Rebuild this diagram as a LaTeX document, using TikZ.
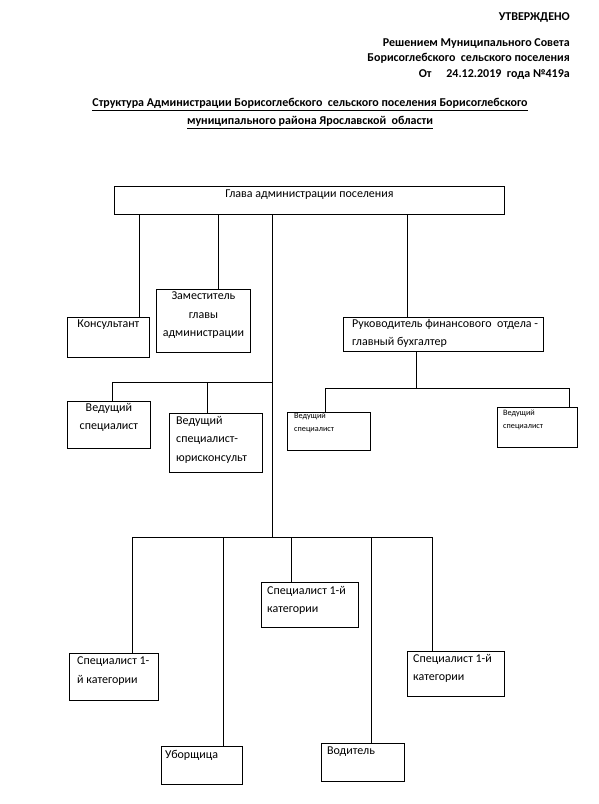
\documentclass[tikz,border=0pt]{standalone}
\usepackage{fontspec}
\setmainfont{Carlito}
\usetikzlibrary{positioning}

\tikzset{
	cell/.style={draw, line width=0.8pt, inner sep=0pt, anchor=north west},
	celltext/.style={inner sep=0pt, font=\fontsize{12}{18.5}\selectfont},
	smalltext/.style={inner sep=0pt, font=\fontsize{8.2}{13}\selectfont, align=left},
	head/.style={inner sep=0pt, font=\fontsize{12}{15.5}\selectfont\bfseries},
	link/.style={line width=0.8pt},
}

\begin{document}
\begin{tikzpicture}[x=1pt,y=-1pt]
	\useasboundingbox[fill=white] (0,0) rectangle (599,804);
	% heading
	\node[head, anchor=east] (utv) at (570,17) {УТВЕРЖДЕНО};
	\node[head, anchor=north east, align=right] (resh) at (570,38)
		{Решением Муниципального Совета\\Борисоглебского\ \ сельского поселения\\От\quad\ 24.12.2019\ \ года №419а};
	\node[head, font=\fontsize{12}{18}\selectfont\bfseries, align=center, anchor=north] (title) at (310,98)
		{\underline{Структура Администрации Борисоглебского\ \ сельского поселения Борисоглебского}\\
		 \underline{муниципального района Ярославской\ \ области}};

	% boxes
	\node[cell, minimum width=390, minimum height=28] (glava) at (114,186) {};
	\node[cell, minimum width=82, minimum height=40] (kons) at (67,317) {};
	\node[cell, minimum width=94, minimum height=63] (zam) at (156,289) {};
	\node[cell, minimum width=200, minimum height=34] (ruk) at (343,317) {};
	\node[cell, minimum width=83, minimum height=38] (fin1) at (287,412) {};
	\node[cell, minimum width=80, minimum height=40] (fin2) at (497,407) {};
	\node[cell, minimum width=83, minimum height=47] (ved) at (67,401) {};
	\node[cell, minimum width=93, minimum height=59] (yur) at (169,413) {};
	\node[cell, minimum width=89, minimum height=47] (spec1) at (69,653) {};
	\node[cell, minimum width=97, minimum height=45] (spec2) at (261,582) {};
	\node[cell, minimum width=97, minimum height=45] (spec3) at (407,651) {};
	\node[cell, minimum width=81, minimum height=38] (ubor) at (161,746) {};
	\node[cell, minimum width=83, minimum height=38] (vod) at (321,743) {};

	% texts
	\node[celltext, below=4pt of glava.north] (tglava) {Глава администрации поселения};
	\node[celltext, below=3pt of kons.north] (tkons) {Консультант};
	\node[celltext, below=3pt of zam.north, align=center] (tzam) {Заместитель\\главы\\администрации};
	\node[celltext, below right=2pt and 9pt of ruk.north west, align=left] (truk)
		{Руководитель финансового\ \ отдела -\\главный бухгалтер};
	\node[smalltext, below right=1pt and 7pt of fin1.north west] (tfin1) {Ведущий\\специалист};
	\node[smalltext, below right=3pt and 6pt of fin2.north west] (tfin2) {Ведущий\\специалист};
	\node[celltext, below=2pt of ved.north, align=center] (tved) {Ведущий\\специалист};
	\node[celltext, below right=3pt and 7pt of yur.north west, align=left] (tyur) {Ведущий\\специалист-\\юрисконсульт};
	\node[celltext, below right=4pt and 8pt of spec1.north west, align=left] (tspec1) {Специалист 1-\\й категории};
	\node[celltext, below right=4pt and 6pt of spec2.north west, align=left] (tspec2) {Специалист 1-й\\категории};
	\node[celltext, below right=3pt and 6pt of spec3.north west, align=left] (tspec3) {Специалист 1-й\\категории};
	\node[celltext, below right=4pt and 4pt of ubor.north west] (tubor) {Уборщица};
	\node[celltext, below right=4pt and 6pt of vod.north west] (tvod) {Водитель};

	% branch points
	\coordinate (m1) at (272,382);
	\coordinate (m2) at (272,537);
	\coordinate (f1) at (416,388);

	% connectors
	\draw[link] ([xshift=-10pt]kons.north east |- glava.south) -- ([xshift=-10pt]kons.north east);
	\draw[link] ([xshift=15pt]zam.north |- glava.south) -- ([xshift=15pt]zam.north);
	\draw[link] (glava.south -| m1) -- (m2);
	\draw[link] ([xshift=-36pt]ruk.north |- glava.south) -- ([xshift=-36pt]ruk.north);
	\draw[link] (ruk.south -| f1) -- (f1);
	\draw[link] (f1) -| ([xshift=-3.5pt]fin1.north);
	\draw[link] (f1) -| ([xshift=32pt]fin2.north);
	\draw[link] (m1) -| ([xshift=3.5pt]ved.north);
	\draw[link] (m1) -| ([xshift=-8.5pt]yur.north);
	\draw[link] (m2) -| ([xshift=18.5pt]spec1.north);
	\draw[link] (m2) -| ([xshift=21.5pt]ubor.north);
	\draw[link] (m2) -| ([xshift=-18.5pt]spec2.north);
	\draw[link] (m2) -| ([xshift=8.5pt]vod.north);
	\draw[link] (m2) -| ([xshift=-23.5pt]spec3.north);
\end{tikzpicture}
\end{document}
